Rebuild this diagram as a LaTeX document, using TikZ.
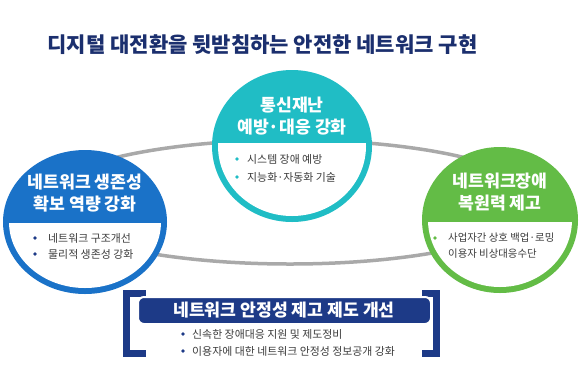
\documentclass[tikz,border=0pt]{standalone}
\usepackage{fontspec}
\setmainfont{Noto Sans CJK KR}
\usetikzlibrary{shapes.geometric}
\definecolor{navy}{HTML}{1B2F6E}
\definecolor{teal1}{HTML}{20BDC5}
\definecolor{blue1}{HTML}{1A72C8}
\definecolor{green1}{HTML}{63BC46}
\definecolor{boxnavy}{HTML}{1D3A87}
\definecolor{ringgray}{HTML}{A9A9A9}
\definecolor{txt}{HTML}{3C3C3C}
\begin{document}
\begin{tikzpicture}[x=1pt,y=-1pt,
  hdr/.style={text=white,font=\bfseries\fontsize{17.2}{22}\selectfont,align=center,inner sep=0},
  bul/.style={text=txt,font=\fontsize{10.9}{12}\selectfont,anchor=west,inner sep=0},
  dotmark/.style={circle,inner sep=0,minimum size=3.8pt},
  disc/.style={ellipse,inner sep=0}]
\useasboundingbox (0,0) rectangle (580,386);
\fill[white] (0,0) rectangle (580,386);
\node[font=\bfseries\fontsize{21}{24}\selectfont, text=navy] (title) at (262.5,45) {디지털 대전환을 뒷받침하는 안전한 네트워크 구현};
% ring
\draw[ringgray, line width=3.5pt] (290,202) ellipse [x radius=250, y radius=62];
% top circle
\node[disc, fill=teal1, minimum width=160pt, minimum height=152pt] (topc) at (292,146) {};
\begin{scope}
  \clip (210,143) rectangle (374,224);
  \fill[white] (292,146) ellipse [x radius=74, y radius=70];
\end{scope}
% left circle
\node[disc, fill=blue1, minimum width=164pt, minimum height=144pt] (leftc) at (85,222) {};
\begin{scope}
  \clip (0,223) rectangle (170,296);
  \fill[white] (85,222) ellipse [x radius=76, y radius=66];
\end{scope}
% right circle
\node[disc, fill=green1, minimum width=156pt, minimum height=146pt] (rightc) at (500,220) {};
\begin{scope}
  \clip (420,222) rectangle (580,295);
  \fill[white] (500,220) ellipse [x radius=72, y radius=67];
\end{scope}
% headers
\node[hdr] (toph) at (292,116) {통신재난\\예방·대응 강화};
\node[hdr] (lefth) at (85,193) {네트워크 생존성\\확보 역량 강화};
\node[hdr] (righth) at (500,192.5) {네트워크장애\\복원력 제고};
% bullets top
\node[dotmark, fill=teal1] (td1) at (237,159) {};
\node[dotmark, fill=teal1] (td2) at (237,177) {};
\node[bul] (tb1) at (247,159) {시스템 장애 예방};
\node[bul] (tb2) at (247,177) {지능화·자동화 기술};
% bullets left
\node[dotmark, fill=boxnavy] (ld1) at (35,238) {};
\node[dotmark, fill=boxnavy] (ld2) at (35,254) {};
\node[bul] (lb1) at (48,238) {네트워크 구조개선};
\node[bul] (lb2) at (48,254) {물리적 생존성 강화};
% bullets right
\node[dotmark, fill=green1] (rd1) at (435,238) {};
\node[dotmark, fill=green1] (rd2) at (435,254) {};
\node[bul, font=\fontsize{10.4}{12}\selectfont] (rb1) at (448,238) {사업자간 상호 백업·로밍};
\node[bul, font=\fontsize{10.4}{12}\selectfont] (rb2) at (448,254) {이용자 비상대응수단};
% bottom brackets and box
\draw[boxnavy, line width=7pt] (146,293.5) -- (126.5,293.5) -- (126.5,353.5) -- (146,353.5);
\draw[boxnavy, line width=7pt] (422,293.5) -- (436,293.5) -- (436,353.5) -- (422,353.5);
\draw[white, line width=2pt, fill=boxnavy, rounded corners=6pt] (138,297) rectangle (431,324);
\node[hdr] (bottomh) at (284,310.5) {네트워크 안정성 제고 제도 개선};
\node[dotmark, fill=boxnavy] (bd1) at (183,334) {};
\node[dotmark, fill=boxnavy] (bd2) at (183,351) {};
\node[bul] (bb1) at (192,334) {신속한 장애대응 지원 및 제도정비};
\node[bul] (bb2) at (192,351) {이용자에 대한 네트워크 안정성 정보공개 강화};
\end{tikzpicture}
\end{document}
